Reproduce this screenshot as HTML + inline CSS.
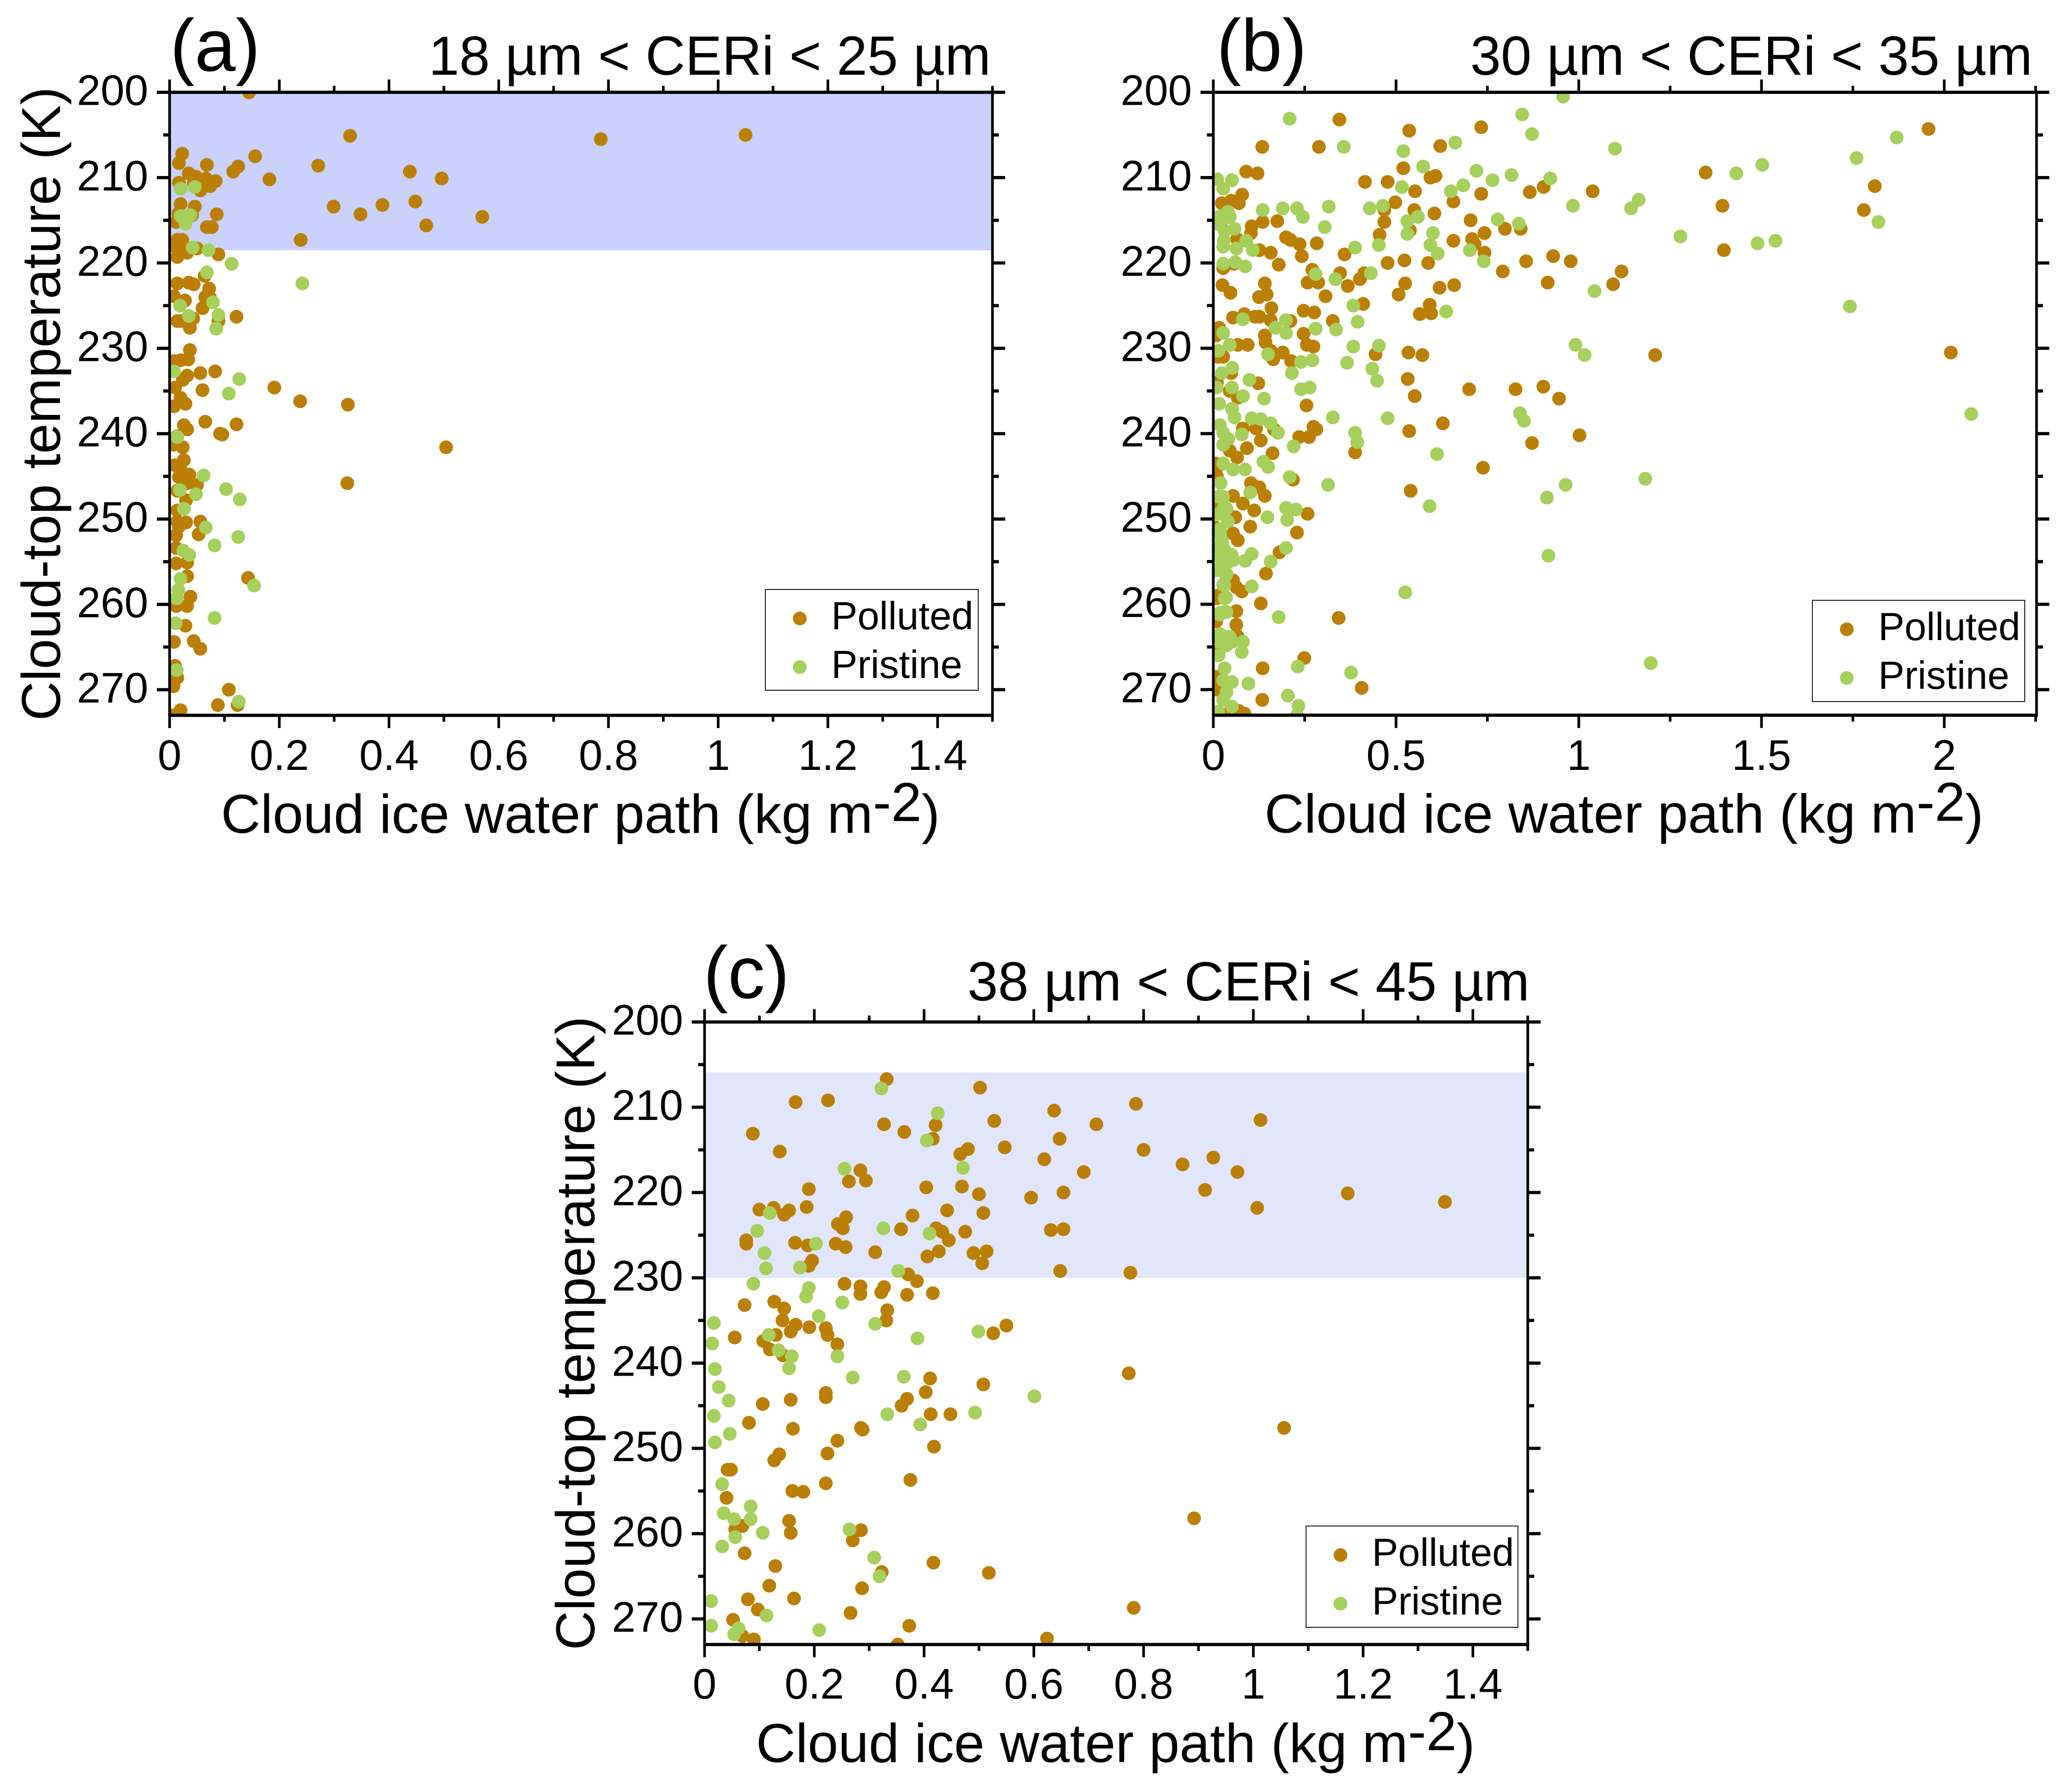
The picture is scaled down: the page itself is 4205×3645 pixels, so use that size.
<!DOCTYPE html>
<html>
<head>
<meta charset="utf-8">
<title>Cloud-top temperature vs cloud ice water path</title>
<style>
html,body{margin:0;padding:0;background:#fff;}
svg{display:block;font-family:"Liberation Sans",Arial,sans-serif;}
</style>
</head>
<body>
<svg id="figure" xmlns="http://www.w3.org/2000/svg" width="4205" height="3645" viewBox="0 0 4205 3645">
<rect width="4205" height="3645" fill="#ffffff"/>
</svg>
<script>
const pollutedA = [[.145,200],[.329,205.1],[.786,205.5],[1.05,205],[.023,207.2],[.017,208.3],[.156,207.5],[.068,208.5],[.125,208.7],[.116,209.3],[.271,208.6],[.438,209.3],[.496,210.1],[.182,210.2],[.017,210.6],[.035,209.5],[.048,209.9],[.066,210.1],[.084,210.4],[.074,211],[.056,211.5],[.044,210.7],[.299,213.4],[.348,214.3],[.388,213.2],[.448,212.8],[.468,215.6],[.57,214.6],[.239,217.3],[.02,213.1],[.046,213.4],[.041,214.4],[.016,214.2],[.086,214.3],[.068,215.8],[.077,215.8],[.012,215.2],[.014,217.3],[.023,217.3],[.008,218],[.032,218.8],[.014,219.3],[.089,219],[.05,218.3],[.014,218.1],[.064,221.5],[.072,223],[.014,222.4],[.035,222.3],[.044,222.5],[.008,223.9],[.028,224.4],[.065,224],[.074,224.1],[.06,225.3],[.014,226.8],[.043,226.5],[.122,226.3],[.089,226.8],[.037,227.6],[.02,226.8],[.037,230.2],[.034,231.3],[.008,231.5],[.02,231.4],[.083,232.7],[.056,232.9],[.032,233.2],[.024,233.7],[.191,234.6],[.01,234.6],[.06,234.9],[.238,236.2],[.325,236.6],[.02,235.8],[.029,236.5],[.008,236.8],[.065,238.6],[.122,238.9],[.026,239],[.032,239.5],[.096,240.1],[.092,240],[.014,240.3],[.007,241.3],[.504,241.6],[.024,241.6],[.026,243.1],[.01,243.7],[.02,244.2],[.036,244.8],[.017,245.1],[.05,246],[.324,245.8],[.032,245.8],[.014,246.7],[.03,247.8],[.014,249],[.056,250.3],[.03,250.4],[.014,250.3],[.017,250.9],[.012,251.9],[.053,251.8],[.012,253.4],[.012,255.2],[.032,255.1],[.032,256.7],[.143,256.9],[.038,259.1],[.032,260.2],[.012,260.2],[.029,262.5],[.008,264.4],[.044,264.3],[.056,265.2],[.01,267.2],[.014,268.6],[.007,269.6],[.108,270],[.088,271.8],[.124,271.8],[.02,272.4],[.005,273]];
const pristineA = [[.02,211.3],[.046,211.1],[.02,214.5],[.038,214.4],[.029,215.4],[.042,218.2],[.071,218.5],[.113,220.1],[.068,221.1],[.242,222.4],[.079,224.6],[.019,225],[.035,226.2],[.089,226.1],[.085,227.7],[.008,232.7],[.127,233.6],[.108,235.3],[.014,240.4],[.062,244.9],[.019,246.6],[.103,246.5],[.048,247.1],[.128,247.7],[.026,248.8],[.066,251],[.125,252.1],[.082,253.1],[.025,253.7],[.036,254.2],[.02,257],[.154,257.8],[.016,258.3],[.013,259.3],[.082,261.6],[.011,262.2],[.013,267.7],[.126,271.4]];
const pollutedB = [[.345,203.2],[.536,204.5],[.733,204.1],[1.957,204.3],[.134,206.4],[.289,206.4],[.621,206.3],[.52,208.9],[.09,209.3],[.121,209.5],[.594,210],[.608,209.8],[.415,210.5],[.477,210.5],[.552,211.6],[.733,211.9],[1.347,209.4],[1.81,211],[.904,211.1],[.866,211.7],[1.038,211.6],[1.393,213.3],[1.78,213.8],[.079,212],[.049,212.7],[.07,213],[.023,213],[.498,212.9],[.657,212.8],[.468,213.8],[.55,213.8],[.605,214.2],[.135,215.2],[.175,215.1],[.105,215.7],[.468,215.2],[.455,216.7],[.704,215],[.538,216.2],[.742,216.5],[.798,216],[.841,216],[.103,216.5],[.065,217.2],[.199,217],[.211,217.3],[.236,217.8],[.283,217.7],[.126,218.5],[.157,218.8],[.657,217.4],[.708,217.2],[.715,217.8],[.359,219],[.242,219.2],[.742,218.8],[1.397,218.5],[.93,219.2],[.523,219.7],[.477,220],[.588,220],[.856,219.8],[.978,219.8],[.179,220.2],[.056,220.1],[.027,220.6],[.347,221.2],[.792,221],[1.117,221],[.271,220.8],[.413,221.2],[.401,221.9],[.258,222.3],[.287,222.3],[.368,222.7],[.141,222.4],[.025,222.6],[.525,222.4],[.659,222.6],[.619,222.9],[.915,222.3],[1.094,222.5],[.047,223.5],[.146,223.7],[.125,224],[.307,223.9],[.507,223.7],[.41,224.8],[.592,224.9],[.159,225.3],[.247,225.6],[.276,225.8],[.085,226],[.126,226.3],[.114,226.3],[.054,226.4],[.565,226],[.596,225.9],[.157,226.7],[.211,226.8],[.327,226.8],[.016,227.6],[.247,228.3],[.141,228.5],[.143,229.3],[.067,229.6],[.094,229.6],[.256,229.6],[.274,229.8],[.157,230.3],[.19,230.5],[.164,231.3],[.213,231.5],[.534,230.5],[.444,230.7],[.572,230.8],[1.209,230.8],[2.018,230.5],[.027,231],[.049,232.9],[.123,234.1],[.532,233.6],[.7,234.8],[.827,234.8],[.903,234.5],[.946,235.9],[.551,235.6],[.045,235],[.067,235.8],[.255,236.7],[.628,238.8],[.282,239.5],[.274,239.2],[.081,239.4],[.117,239.4],[.166,239.5],[.235,240.4],[.262,240.4],[.536,239.7],[1.002,240.2],[.872,241.1],[.13,240.8],[.092,241.7],[.388,242.2],[.162,242.3],[.045,242],[.065,242.8],[.738,244],[.005,243.5],[.218,245.4],[.103,245.8],[.126,246.3],[.141,247.3],[.54,246.7],[.054,247.3],[.081,248.2],[.112,249],[.258,249.4],[.06,249.8],[.101,250.9],[.229,251.6],[.054,251.7],[.067,252.5],[.181,253.9],[.144,256.4],[.054,257.2],[.063,258],[.078,258.5],[.13,259.9],[.009,259.3],[.063,260.8],[.343,261.6],[.063,262.4],[.067,263.8],[.014,265.7],[.249,266.3],[.135,267.5],[.018,268.6],[.406,269.8],[.134,271.2],[.05,272.1],[.018,272.8],[.085,272.8],[.008,228.5],[.012,231],[.01,234],[.008,244],[.01,245],[.01,248],[.006,251],[.008,256],[.01,259],[.008,262],[.008,270],[.008,268.5],[.07,272.5]];
const pristineB = [[.957,200.5],[.209,203.1],[.845,202.6],[.872,204.9],[.662,205.9],[1.87,205.3],[.357,206.4],[.52,206.9],[1.099,206.6],[1.76,207.7],[.574,208.7],[1.502,208.5],[1.431,209.5],[.72,209.2],[.816,209.7],[.764,210.3],[.922,210.1],[.011,210.2],[.051,210.3],[.027,211.3],[.516,211.1],[.684,210.9],[.65,211.6],[1.164,212.6],[1.143,213.6],[.984,213.3],[.464,213.3],[.316,213.4],[.229,213.6],[.19,213.6],[.135,213.8],[.428,213.6],[.245,214.6],[.04,214],[.016,214.6],[.045,214.6],[.023,215.2],[.013,215.4],[.058,216],[.031,216.3],[.56,214.6],[.531,215.1],[.778,214.9],[.836,215.4],[.305,215.8],[.601,216.5],[.531,216.6],[1.278,216.9],[1.82,215.2],[1.538,217.4],[1.489,217.7],[.029,217.4],[.09,217.4],[.027,218.1],[.063,218.3],[.108,218.5],[.388,218.2],[.453,217.9],[.594,217.9],[.614,218.9],[.702,218.5],[.74,219.8],[.027,220.1],[.06,219.9],[.087,220.4],[.28,221.3],[.431,221.2],[.334,221.9],[1.043,223.3],[1.742,225.1],[.383,225],[.637,225.7],[.081,226.6],[.199,226.7],[.395,226.9],[.17,227.6],[.28,227.7],[.336,227.8],[.027,228.2],[.199,228.2],[.045,229.6],[.383,229.8],[.453,229.7],[.991,229.6],[1.016,230.8],[.014,230.3],[.15,230.7],[.052,232.3],[.24,231.6],[.271,231.4],[.366,231.7],[.435,232.4],[.215,232.9],[.023,232.9],[.448,233.8],[.099,233.7],[.009,234.6],[.051,234.6],[.264,234.6],[.24,234.8],[.081,235.6],[.139,235.9],[.016,236.5],[.051,237.1],[2.074,237.7],[.839,237.6],[.85,238.5],[.327,238.1],[.477,238.2],[.058,238.1],[.105,238.2],[.13,238.3],[.157,238.8],[.018,239],[.078,240.1],[.177,239.9],[.388,239.9],[.394,241],[.027,239.9],[.041,240.6],[.027,241.3],[.22,241.5],[.612,242.4],[.027,243.5],[.054,244.2],[.087,244.2],[.137,243.3],[.15,243.9],[.209,245.1],[.314,246],[1.182,245.3],[.964,246],[.02,245.8],[.913,247.5],[.101,246.9],[.027,247.4],[.592,248.5],[.199,248.7],[.226,248.9],[.036,248.8],[.148,249.8],[.202,250.1],[.04,250.3],[.018,251.2],[.023,252.5],[.199,253.4],[.105,254.1],[.917,254.3],[.157,255],[.087,254.9],[.018,254.5],[.045,254.8],[.023,255.7],[.036,256.4],[.027,257.7],[.105,257.9],[.031,259.3],[.525,258.6],[.179,261.5],[.018,261.2],[.036,260.9],[.018,263.5],[.045,263.8],[.081,264.4],[.078,265.6],[.014,264.4],[.036,264.8],[.051,264.4],[.014,266],[.231,267.3],[1.197,266.9],[.377,268],[.031,267.5],[.027,268.9],[.051,269.1],[.096,269.3],[.036,270.3],[.204,270.7],[.233,271.9],[.051,272],[.027,271.2],[.013,272.6],[.229,273],[.014,247.4],[.03,248.6],[.014,249.4],[.04,250.3],[.019,251.8],[.024,252.8],[.019,254.3],[.04,255.1],[.055,254.8],[.035,256.6],[.03,257.8],[.035,259.2],[.019,261],[.032,260.9],[.019,263.6],[.045,263.8],[.01,253.5],[.012,256],[.03,253.6],[.05,254.2]];
const pollutedC = [[.332,206.7],[.502,207.7],[.166,209.4],[.225,209.2],[.637,210.4],[.786,209.6],[1.013,211.5],[.088,213.1],[.327,212],[.364,212.9],[.421,212.1],[.528,211.6],[.714,212],[.416,213.7],[.647,213.7],[.137,215.2],[.547,214.7],[.48,214.9],[.466,215.5],[.619,216.1],[.8,215],[.927,215.9],[.871,216.7],[.971,217.6],[.691,217.6],[.284,217.4],[.263,218.7],[.294,218.6],[.19,219.6],[.404,219.4],[.469,219.3],[.5,220.2],[.654,220],[.595,220.6],[.912,219.7],[1.172,220.1],[1.349,221.1],[1.007,221.8],[.1,222],[.126,221.8],[.154,222.1],[.145,222.6],[.186,221.7],[.442,222.1],[.508,222.4],[.379,222.7],[.258,222.9],[.243,223.7],[.252,224.2],[.358,224.3],[.422,224.2],[.433,224.6],[.475,224.6],[.631,224.4],[.654,224.3],[.445,225.6],[.076,225.6],[.076,226],[.165,225.9],[.239,226],[.188,226.2],[.257,226.4],[.311,227],[.427,226.9],[.49,227.1],[.514,226.9],[.406,227.5],[.506,228.3],[.196,228],[.19,228.6],[.648,229.2],[.776,229.4],[.371,229.6],[.387,230.4],[.255,230.7],[.284,231],[.327,231.1],[.322,231.7],[.284,231.9],[.369,232],[.416,231.8],[.073,233.2],[.127,232.8],[.145,233.6],[.333,233.8],[.331,235],[.142,235],[.55,235.6],[.526,236.5],[.166,235.5],[.157,236.3],[.191,235.8],[.221,235.9],[.224,236.7],[.055,237],[.13,236.7],[.107,237.4],[.119,238.4],[.242,237.8],[.143,239.1],[.411,241.8],[.773,241.2],[.508,242.5],[.221,243.5],[.221,244],[.403,243.4],[.369,244.2],[.359,245],[.157,244.3],[.106,244.8],[.081,247],[.161,247.7],[.285,247.6],[.288,247.8],[.412,246],[.448,246],[1.056,247.6],[.242,249.1],[.418,249.8],[.224,250.6],[.136,250.7],[.127,251.4],[.042,252.5],[.048,252.5],[.221,254.1],[.375,253.7],[.16,255],[.18,255.1],[.04,255.8],[.892,258.2],[.154,258.5],[.157,259.9],[.069,259.1],[.056,259.5],[.285,259.6],[.27,260.8],[.073,262.3],[.417,263.4],[.129,263.8],[.323,264.5],[.518,264.6],[.118,266.1],[.287,266.4],[.163,267.6],[.079,267.7],[.097,268.9],[.782,268.7],[.266,269.3],[.052,270.1],[.373,270.8],[.069,272],[.09,272.4],[.624,272.3],[.352,273]];
const pristineC = [[.322,207.8],[.425,210.7],[.405,213.9],[.255,217.2],[.471,217.1],[.119,222.4],[.326,224.2],[.096,224.5],[.41,224.8],[.203,226],[.109,227.1],[.112,228.9],[.174,228.8],[.353,229.2],[.089,230.7],[.19,231.2],[.185,232.2],[.251,232.9],[.208,234.5],[.311,235.4],[.017,235.3],[.117,236.7],[.499,236.3],[.388,237.1],[.014,237.7],[.135,238.5],[.159,239.2],[.242,239.2],[.154,240.6],[.019,240.7],[.27,241.7],[.363,241.6],[.026,242.8],[.601,243.9],[.044,244.4],[.017,246.2],[.333,246],[.493,245.8],[.393,247.2],[.046,248.3],[.019,249.3],[.032,254.2],[.084,256.8],[.035,257.6],[.054,258.3],[.084,258.3],[.106,259.9],[.264,259.5],[.056,260.4],[.032,261.5],[.309,262.8],[.319,265],[.012,267.9],[.113,269.6],[.012,270.8],[.209,271.3],[.062,271.1],[.054,271.8]];

const yMajorTicks = [200,210,220,230,240,250,260,270];
const yMinorTicks = [205,215,225,235,245,255,265];
const xMajorNarrow = [0,0.2,0.4,0.6,0.8,1,1.2,1.4];
const xMinorNarrow = [0.1,0.3,0.5,0.7,0.9,1.1,1.3,1.5];
const xMajorWide = [0,0.5,1,1.5,2];
const xMinorWide = [0.25,0.75,1.25,1.75,2.25];

const POLLUTED_COLOR = '#bb7f05';
const PRISTINE_COLOR = '#a6cf5b';
const NS = 'http://www.w3.org/2000/svg';
const root = document.getElementById('figure');

function mk(parent, tag, attrs, text) {
  const el = document.createElementNS(NS, tag);
  for (const k in attrs) el.setAttribute(k, attrs[k]);
  if (text !== undefined) el.textContent = text;
  parent.appendChild(el);
  return el;
}

function line(parent, x1, y1, x2, y2, w, name) {
  const el = mk(parent, 'line', {x1:x1, y1:y1, x2:x2, y2:y2, stroke:'#000', 'stroke-width':w});
  
  
  return el;
}

function drawPanel(p) {
  const g = mk(root, 'g', {});
  
  
  const W = p.right - p.left, H = p.bottom - p.top;
  const sx = v => p.left + v / p.xMax * W;
  const sy = v => p.top + (v - 200) / 73 * H;
  const bg = mk(g, 'rect', {x:p.left, y:p.top, width:W, height:H, fill:'#fff'});
  
  
  if (p.band) {
    const b = mk(g, 'rect', {x:p.left, y:sy(p.band[0]), width:W, height:sy(p.band[1]) - sy(p.band[0]), fill:p.bandColor});
    
    
  }
  const clipId = 'clip-' + p.id;
  const defs = mk(g, 'defs', {});
  const cp = mk(defs, 'clipPath', {id:clipId});
  mk(cp, 'rect', {x:p.left, y:p.top, width:W, height:H});
  const marks = mk(g, 'g', {'clip-path':'url(#' + clipId + ')'});
  
  
  p.polluted.forEach(d => {
    const c = mk(marks, 'circle', {cx:sx(d[0]), cy:sy(d[1]), r:14, fill:POLLUTED_COLOR});
    
    
  });
  p.pristine.forEach(d => {
    const c = mk(marks, 'circle', {cx:sx(d[0]), cy:sy(d[1]), r:14, fill:PRISTINE_COLOR});
    
    
  });
  const VW = 5.4, HW = 6.5, MAJ = 26, MIN = 13;
  line(g, p.left, p.top, p.left, p.bottom, VW, 'y-axis-left');
  line(g, p.right, p.top, p.right, p.bottom, VW, 'y-axis-right');
  line(g, p.left - VW/2, p.top, p.right + VW/2, p.top, HW, 'x-axis-top');
  line(g, p.left - VW/2, p.bottom, p.right + VW/2, p.bottom, HW, 'x-axis-bottom');
  yMajorTicks.forEach(v => {
    const y = sy(v);
    line(g, p.left - MAJ, y, p.left, y, HW, 'y-tick');
    line(g, p.right, y, p.right + MAJ, y, HW, 'y-tick-right');
    const t = mk(g, 'text', {x:p.left - 43.5, y:y + 26, 'font-size':87, 'text-anchor':'end', fill:'#000'}, String(v));
    
    
  });
  yMinorTicks.forEach(v => {
    const y = sy(v);
    line(g, p.left - MIN, y, p.left, y, HW, 'y-minor-tick');
    line(g, p.right, y, p.right + MIN, y, HW, 'y-minor-tick-right');
  });
  p.xMajor.forEach(v => {
    const x = sx(v);
    line(g, x, p.bottom, x, p.bottom + MAJ, VW, 'x-tick');
    line(g, x, p.top - MAJ, x, p.top, VW, 'x-tick-top');
    const t = mk(g, 'text', {x:x, y:p.xLabelY, 'font-size':87, 'text-anchor':'middle', fill:'#000'}, String(v));
    
    
  });
  p.xMinor.forEach(v => {
    const x = sx(v);
    line(g, x, p.bottom, x, p.bottom + MIN, VW, 'x-minor-tick');
    line(g, x, p.top - MIN, x, p.top, VW, 'x-minor-tick-top');
  });
  const xt = mk(g, 'text', {x:p.xTitleX, y:p.xTitleY, 'font-size':111.5, fill:'#000'});
  
  
  mk(xt, 'tspan', {}, 'Cloud ice water path (kg m');
  mk(xt, 'tspan', {dy:-24}, '-2');
  mk(xt, 'tspan', {dy:24}, ')');
  if (p.yTitleX) {
    const cy = (p.top + p.bottom) / 2;
    const yt = mk(g, 'text', {transform:'translate(' + p.yTitleX + ',' + cy + ') rotate(-90)', 'font-size':111, 'text-anchor':'middle', fill:'#000'}, 'Cloud-top temperature (K)');
    
    
  }
  const lab = mk(g, 'text', {x:p.labelX, y:p.labelY, 'font-size':150, fill:'#000'}, '(' + p.id + ')');
  
  
  const title = mk(g, 'text', {x:p.titleX, y:p.titleY, 'font-size':112, fill:'#000'}, p.title);
  
  
  const lg = mk(g, 'g', {});
  
  
  const L = p.legend;
  const box = mk(lg, 'rect', {x:L.x, y:L.y, width:L.w, height:L.h, fill:'#fff', stroke:'#222', 'stroke-width':2});
  
  
  [['Polluted', POLLUTED_COLOR, L.y + 59],['Pristine', PRISTINE_COLOR, L.y + 158]].forEach(e => {
    const m = mk(lg, 'circle', {cx:L.x + 70, cy:e[2], r:14, fill:e[1]});
    
    
    const t = mk(lg, 'text', {x:L.x + 134, y:e[2] + 22, 'font-size':80, fill:'#000'}, e[0]);
    
    
  });
}

drawPanel({id:'a', left:345, right:2019, top:187.7, bottom:1455, xMax:1.5,
  polluted:pollutedA, pristine:pristineA, band:[200,218.5], bandColor:'#c9d1fc',
  xMajor:xMajorNarrow, xMinor:xMinorNarrow, xLabelY:1566,
  xTitleX:449.5, xTitleY:1694, yTitleX:122,
  labelX:346, labelY:144, titleX:872, titleY:152, title:'18 µm < CERi < 25 µm',
  legend:{x:1557, y:1199, w:433, h:205}});
drawPanel({id:'b', left:2468.3, right:4143, top:187.7, bottom:1454.8, xMax:2.2525,
  polluted:pollutedB, pristine:pristineB,
  xMajor:xMajorWide, xMinor:xMinorWide, xLabelY:1566,
  xTitleX:2572.5, xTitleY:1693.5,
  labelX:2475, labelY:144, titleX:2991, titleY:152, title:'30 µm < CERi < 35 µm',
  legend:{x:3687, y:1221, w:432, h:206}});
drawPanel({id:'c', left:1433.3, right:3108, top:2078.7, bottom:3345, xMax:1.5,
  polluted:pollutedC, pristine:pristineC, band:[205.9,230], bandColor:'#e2e6fc',
  xMajor:xMajorNarrow, xMinor:xMinorNarrow, xLabelY:3455,
  xTitleX:1538, xTitleY:3584, yTitleX:1209,
  labelX:1431, labelY:2030, titleX:1968, titleY:2035, title:'38 µm < CERi < 45 µm',
  legend:{x:2657, y:3104, w:431, h:206}});
</script>
</body>
</html>
